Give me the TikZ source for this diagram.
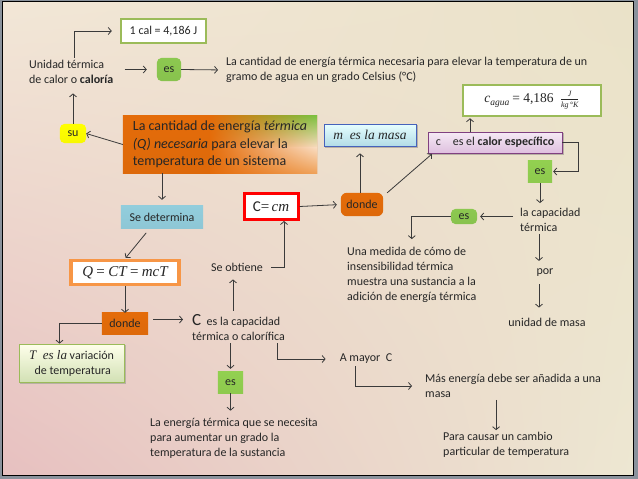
\documentclass[tikz,border=0pt]{standalone}
\usepackage{fontspec}
\setmainfont{Carlito}
\newfontfamily\mth{Liberation Serif}
\usetikzlibrary{arrows.meta,calc,shadings,backgrounds}
\definecolor{txtc}{HTML}{262626}
\definecolor{linec}{HTML}{3A3A3A}
\definecolor{ogreen}{HTML}{9BBB59}
\definecolor{esgreen}{HTML}{8CC850}
\definecolor{esgreenb}{HTML}{92D050}
\definecolor{dorange}{HTML}{E46C0A}
\definecolor{lorange}{HTML}{F79646}
\definecolor{skyb}{HTML}{92CDDC}
\definecolor{bpale}{HTML}{F9DCC0}
\definecolor{bmid}{HTML}{EFA25A}
\definecolor{bgreen}{HTML}{7CC242}
\definecolor{bgUL}{HTML}{F2E7D7}
\definecolor{bgUR}{HTML}{EAE2C8}
\definecolor{bgLL}{HTML}{E7C0C0}
\definecolor{bgLR}{HTML}{EDE7D2}
\definecolor{framec}{HTML}{8A929C}
\definecolor{framed}{HTML}{5F6873}
\definecolor{shadowc}{HTML}{B8B0A4}
\tikzset{
  txt/.style={text=txtc, font=\fontsize{12}{15}\selectfont, inner sep=2pt},
  ltxt/.style={txt, align=left},
  arr/.style={draw=linec, line width=0.8pt, -{Straight Barb[length=3pt,width=7pt]}},
  gbox/.style={txt, draw=ogreen, line width=2.5pt, fill=white},
  esr/.style={txt, minimum width=24pt, minimum height=22pt},
  esq/.style={txt, minimum width=24pt, minimum height=21pt},
  solid shade/.style={top color=#1, bottom color=#1!97!black},
}
\newcommand{\mi}[1]{{\mth\itshape #1}}
\begin{document}
\begin{tikzpicture}[x=1pt,y=-1pt]
\useasboundingbox (0,0) rectangle (638,479);
\begin{pgfonlayer}{background}
\fill[framec] (0,0) rectangle (638,479);
\shade[upper left=bgUL, upper right=bgUR, lower left=bgLL, lower right=bgLR] (2,1) rectangle (633,475);
\draw[framed, line width=0.8pt] (2,1) rectangle (633,475);
\end{pgfonlayer}

% nodes
\node[gbox, minimum width=85pt, minimum height=24pt] (cal) at (163.5,31) {1 cal = 4,186 J};
\node[ltxt, anchor=west] (unidad) at (27,71.5) {Unidad térmica\\de calor o \textbf{caloría}};
\node[esr, minimum height=23pt] (es1) at (169,69.5) {es};
\node[ltxt, anchor=west] (deftext) at (224,70) {La cantidad de energía térmica necesaria para elevar la temperatura de un\\gramo de agua en un grado Celsius (°C)};
\node[txt, minimum width=26pt, minimum height=19pt] (su) at (73,133.5) {su};
\node[txt, font=\fontsize{14}{17.5}\selectfont, align=left, minimum width=194pt, minimum height=57pt, inner sep=3pt] (big) at (220,144.5) {La cantidad de energía \textit{térmica}\\\textit{(Q) necesaria} para elevar la\\temperatura de un sistema};
\node[txt, minimum width=82pt, minimum height=22pt] (sedet) at (162,217) {Se determina};
\node[txt, draw=red, line width=3pt, fill=white, minimum width=54pt, minimum height=26pt, font=\fontsize{15}{18}\selectfont] (Ccm) at (271,206.5) {C{\mth=}\,\mi{cm}};
\node[txt, minimum width=42pt, minimum height=23pt] (donde1) at (362,204.5) {donde};
\node[txt, draw=skyb!60!blue!80!black, line width=0.7pt, top color=blue!3!cyan!10, bottom color=skyb!70, minimum width=92pt, minimum height=22pt, font=\fontsize{13.5}{15}\selectfont] (mmasa) at (370,135) {\mi{m\ \ es la masa}};
\node[txt, draw=violet!50!gray, line width=0.7pt, top color=violet!8, bottom color=violet!25, minimum width=134pt, minimum height=21pt] (cesp) at (495,142.5) {c\quad es el \textbf{calor específico}};
\node[gbox, minimum width=138pt, minimum height=31pt, font=\fontsize{13.5}{14}\selectfont] (cagua) at (532,100.5) {\mi{c}\raisebox{-2.5pt}{\fontsize{9.5}{10}\selectfont\mi{agua}}\ {\mth = 4,186}\ \ $\frac{\hbox{\fontsize{8}{8}\selectfont\mi{J}}}{\hbox{\fontsize{8}{8}\selectfont\mi{kg\,°K}}}$};
\node[esq] (es2) at (540,171.5) {es};
\node[ltxt, anchor=west] (lacap) at (518,220) {la capacidad\\térmica};
\node[esr, minimum width=26pt, minimum height=15pt] (es3) at (464,216.5) {es};
\node[ltxt, anchor=west] (medida) at (345,275) {Una medida de cómo de\\insensibilidad térmica\\muestra una sustancia a la\\adición de energía térmica};
\node[txt] (por) at (545,273) {por};
\node[txt] (umasa) at (547,322) {unidad de masa};
\node[txt] (seobt) at (237,267) {Se obtiene};
\node[txt, draw=lorange, line width=3.5pt, fill=white, minimum width=108pt, minimum height=24pt, font=\fontsize{15}{16}\selectfont] (Q) at (125,272.5) {\mi{Q}\ {\mth=}\ \mi{CT}\ {\mth=}\ \mi{mcT}};
\node[txt, minimum width=46pt, minimum height=21pt] (donde2) at (125,323.5) {donde};
\node[txt, align=left, draw=ogreen, line width=0.7pt, top color=green!4!yellow!8, bottom color=ogreen!45, minimum width=105pt, minimum height=38pt] (Tvar) at (71.5,363) {{\fontsize{13}{15}\selectfont\mi{T\ \ es la}} variación\\\ \ de temperatura};
\node[ltxt, anchor=west] (Ccap) at (190,328) {{\fontsize{17}{15}\selectfont C}\ \ es la capacidad\\térmica o calorífica};
\node[esq, minimum width=25pt] (es4) at (230.5,382.5) {es};
\node[ltxt, anchor=west] (laenergia) at (148,438) {La energía térmica que se necesita\\para aumentar un grado la\\temperatura de la sustancia};
\node[txt] (amayor) at (366,359) {A mayor\ \ C};
\node[ltxt, anchor=west] (masenergia) at (423,386) {Más energía debe ser añadida a una\\masa};
\node[ltxt, anchor=west] (paracausar) at (441,445) {Para causar un cambio\\particular de temperatura};

% box fills and shadows behind the texts
\begin{pgfonlayer}{background}
\fill[shadowc] ([shift={(1.5,1.5)}]mmasa.south west) rectangle ([shift={(1.5,1.5)}]mmasa.north east);
\fill[shadowc] ([shift={(1.5,1.5)}]cesp.south west) rectangle ([shift={(1.5,1.5)}]cesp.north east);
\fill[shadowc] ([shift={(1.5,1.5)}]Tvar.south west) rectangle ([shift={(1.5,1.5)}]Tvar.north east);
\shade[solid shade=esgreen, rounded corners=5pt] (es1.south west) rectangle (es1.north east);
\shade[solid shade=esgreen, rounded corners=5pt] (es3.south west) rectangle (es3.north east);
\shade[solid shade=esgreenb] (es2.south west) rectangle (es2.north east);
\shade[solid shade=esgreenb] (es4.south west) rectangle (es4.north east);
\shade[solid shade=yellow, rounded corners=5pt] (su.south west) rectangle (su.north east);
\shade[solid shade=skyb] (sedet.south west) rectangle (sedet.north east);
\shade[solid shade=dorange, rounded corners=6pt] (donde1.south west) rectangle (donde1.north east);
\shade[solid shade=dorange] (donde2.south west) rectangle (donde2.north east);
% big box gradient, built from pieces
\shade[solid shade=dorange] (big.south west) rectangle (big.north east);
\coordinate (bTL) at ($(big.north west)!0.45!(big.north east)$);
\coordinate (bML) at ($(big.west)!0.45!(big.east)$);
\shade[upper left=dorange, upper right=bgreen, lower left=dorange, lower right=bpale] (bTL) rectangle ([yshift=-3pt]big.east);
\shade[upper left=dorange, upper right=bpale, lower left=dorange, lower right=bmid] ([yshift=-3pt]bML) rectangle (big.south east);
\end{pgfonlayer}

% connectors
\draw[arr, shorten >=8pt] ([xshift=3pt]unidad.north) |- (cal.west);
\draw[arr, shorten <=9pt, shorten >=10pt] (unidad.east |- es1.west) -- (es1.west);
\draw[arr, shorten >=6pt] (es1.east) -- (deftext.west);
\draw[arr, shorten >=8pt] (su.north) -- (su.north |- unidad.south);
\draw[arr] (big.west) -- (su.east);
\draw[arr, shorten >=6pt] (sedet.north |- big.south) -- (sedet.north);
\draw[arr, shorten <=6pt, shorten >=1pt] ([xshift=-12pt]sedet.south) -- (Q.north);
\draw[arr] (Q.south) -- (donde2.north);
\draw[arr] (donde2.west) -| ([xshift=-12pt]Tvar.north);
\draw[arr, shorten <=5pt, shorten >=7pt] ([yshift=4pt]donde2.east) -- ([yshift=4pt]donde2.east -| Ccap.west);
\draw[arr, shorten <=2pt, shorten >=6pt] ([xshift=-4pt]seobt.south |- Ccap.north) -- ([xshift=-4pt]seobt.south);
\draw[arr, shorten <=6pt] (seobt.east) -| ([xshift=13pt]Ccm.south);
\draw[arr, shorten >=4pt] (Ccm.east) -- (donde1.west);
\draw[arr, shorten >=7pt] ([xshift=-2pt]donde1.north) -- ([xshift=-2pt]donde1.north |- mmasa.south);
\draw[arr, shorten >=1pt] ([xshift=4pt]donde1.north east) -- ([xshift=5pt]cesp.south west);
\draw[arr, shorten >=1pt] ([xshift=-25pt]cesp.north) -- ([xshift=-25pt]cesp.north |- cagua.south);
\draw[arr, shorten >=1pt] (cesp.east) -| ([xshift=26pt]es2.east) -- (es2.east);
\draw[arr, shorten <=1pt, shorten >=3pt] (es2.south) -- (es2.south |- lacap.north);
\draw[arr, shorten <=5pt, shorten >=3pt] (lacap.west |- es3.east) -- (es3.east);
\draw[arr, shorten >=6pt] (es3.west) -| (medida.north);
\draw[arr, shorten >=6pt] ([xshift=-6pt]por.north |- lacap.south) -- ([xshift=-6pt]por.north);
\draw[arr, shorten <=5pt, shorten >=8pt] ([xshift=-6pt]por.south) -- ([xshift=-6pt]por.south |- umasa.north);
\draw[arr, shorten >=3pt] (es4.north |- Ccap.south) -- (es4.north);
\draw[arr, shorten >=5pt] (es4.south) -- (es4.south |- laenergia.north);
\draw[arr, shorten >=12pt] ([xshift=-10pt]Ccap.south east) |- (amayor.west);
\draw[arr, shorten >=11pt] ([xshift=-11pt]amayor.south) |- (masenergia.west);
\draw[arr] ([xshift=-17pt]masenergia.south) -- ([xshift=-17pt]masenergia.south |- paracausar.north);
\end{tikzpicture}
\end{document}
